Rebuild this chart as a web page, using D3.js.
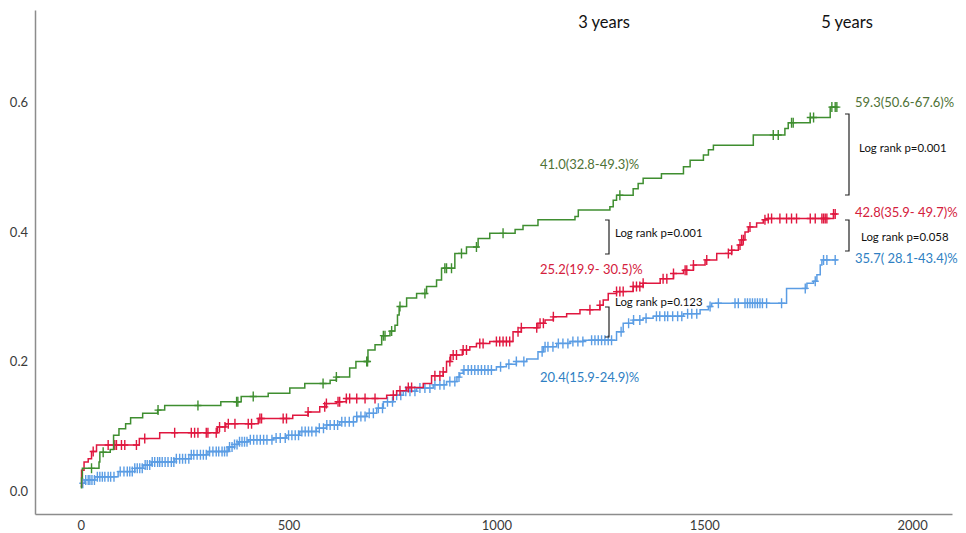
<!DOCTYPE html>
<html>
<head>
<meta charset="utf-8">
<script src="https://cdn.jsdelivr.net/npm/d3@7"></script>
<style>
  body { margin: 0; background: #fff; }
  svg { display: block; }
</style>
</head>
<body>
<svg id="chart" width="966" height="533"></svg>
<script>
// Cumulative incidence step curves: [day, cumulative proportion]
const greenSteps = [
  [0, 0.005], [2, 0.02], [4, 0.035], [44, 0.045], [46, 0.06], [71, 0.064], [79, 0.086],
  [92, 0.096], [108, 0.104], [120, 0.113], [149, 0.12], [185, 0.125], [202, 0.132],
  [337, 0.138], [386, 0.146], [451, 0.151], [503, 0.159], [539, 0.166], [600, 0.171],
  [615, 0.176], [647, 0.19], [662, 0.2], [691, 0.218], [708, 0.226], [724, 0.24],
  [744, 0.247], [756, 0.256], [762, 0.272], [766, 0.285], [784, 0.298], [808, 0.305],
  [832, 0.316], [856, 0.326], [868, 0.344], [900, 0.367], [928, 0.377], [956, 0.39],
  [984, 0.398], [1045, 0.404], [1064, 0.41], [1100, 0.419], [1189, 0.424], [1197, 0.434],
  [1273, 0.439], [1281, 0.449], [1289, 0.457], [1329, 0.467], [1341, 0.475], [1353, 0.483],
  [1397, 0.49], [1450, 0.501], [1466, 0.511], [1498, 0.519], [1510, 0.527], [1522, 0.534],
  [1618, 0.55], [1694, 0.56], [1702, 0.569], [1755, 0.577], [1803, 0.593]
];
const greenEnd = 1819;

const redSteps = [
  [0, 0.007], [2, 0.032], [8, 0.045], [18, 0.05], [26, 0.061], [38, 0.071], [141, 0.081],
  [190, 0.09], [329, 0.099], [349, 0.104], [427, 0.112], [510, 0.117], [547, 0.122],
  [575, 0.13], [591, 0.135], [615, 0.138], [639, 0.143], [736, 0.148], [760, 0.155],
  [784, 0.16], [824, 0.166], [844, 0.178], [872, 0.184], [880, 0.2], [890, 0.21],
  [918, 0.218], [936, 0.223], [952, 0.228], [984, 0.231], [1040, 0.246], [1060, 0.252],
  [1100, 0.259], [1117, 0.264], [1137, 0.269], [1169, 0.274], [1201, 0.28], [1249, 0.287],
  [1257, 0.295], [1269, 0.305], [1289, 0.308], [1329, 0.316], [1353, 0.321], [1394, 0.328],
  [1426, 0.336], [1450, 0.341], [1474, 0.349], [1502, 0.357], [1530, 0.367], [1566, 0.372],
  [1582, 0.38], [1590, 0.388], [1598, 0.4], [1606, 0.408], [1626, 0.414], [1642, 0.419],
  [1654, 0.421], [1811, 0.428]
];
const redEnd = 1815;

const blueSteps = [
  [0, 0.007], [3, 0.012], [10, 0.017], [34, 0.022], [90, 0.03], [130, 0.035], [150, 0.04],
  [170, 0.045], [226, 0.05], [266, 0.056], [306, 0.061], [355, 0.068], [370, 0.072],
  [379, 0.076], [403, 0.079], [463, 0.082], [495, 0.086], [527, 0.092], [567, 0.097],
  [591, 0.102], [623, 0.107], [664, 0.115], [688, 0.12], [712, 0.128], [728, 0.138],
  [752, 0.148], [776, 0.154], [808, 0.159], [848, 0.164], [880, 0.169], [905, 0.176],
  [912, 0.182], [920, 0.187], [1000, 0.192], [1024, 0.196], [1048, 0.2], [1073, 0.204],
  [1100, 0.215], [1113, 0.223], [1145, 0.228], [1177, 0.231], [1209, 0.233], [1289, 0.246],
  [1305, 0.259], [1329, 0.264], [1353, 0.267], [1377, 0.27], [1450, 0.274], [1490, 0.28],
  [1510, 0.285], [1518, 0.29], [1698, 0.313], [1747, 0.321], [1763, 0.324], [1771, 0.334],
  [1779, 0.349], [1783, 0.357]
];
const blueEnd = 1821;

// Censoring times (days)
const greenCensored = [26, 54, 186, 282, 375, 378, 415, 583, 615, 688, 690, 728, 732, 748,
  768, 828, 876, 880, 892, 916, 952, 1016, 1297, 1666, 1678, 1710, 1714, 1755, 1763,
  1807, 1815, 1819];

const redCensored = [30, 66, 82, 86, 98, 106, 134, 154, 226, 266, 274, 282, 302, 306, 326,
  334, 347, 355, 371, 403, 411, 431, 435, 487, 495, 547, 587, 591, 619, 623, 639, 647,
  664, 684, 708, 752, 768, 788, 796, 852, 864, 872, 888, 896, 904, 920, 928, 960, 968,
  1000, 1008, 1016, 1024, 1032, 1052, 1060, 1097, 1105, 1113, 1137, 1225, 1249, 1289,
  1297, 1305, 1329, 1337, 1345, 1353, 1401, 1410, 1426, 1454, 1458, 1474, 1506, 1558,
  1566, 1586, 1590, 1594, 1610, 1646, 1654, 1662, 1682, 1698, 1710, 1722, 1755, 1767,
  1783, 1787, 1791, 1795, 1811, 1815];

const blueCensored = [5, 12, 18, 22, 27, 33, 40, 46, 52, 58, 66, 72, 80, 95, 104, 112, 118,
  124, 130, 136, 142, 148, 155, 160, 166, 172, 178, 185, 190, 196, 203, 210, 218, 224,
  230, 238, 245, 252, 260, 266, 272, 280, 288, 295, 302, 310, 318, 326, 332, 340, 346,
  352, 358, 364, 370, 376, 382, 388, 394, 400, 408, 416, 424, 432, 440, 448, 460, 470,
  480, 492, 500, 508, 516, 524, 532, 540, 548, 556, 566, 574, 584, 592, 600, 610, 618,
  628, 636, 646, 656, 664, 674, 684, 694, 704, 716, 726, 738, 750, 760, 770, 782, 792,
  804, 816, 828, 840, 852, 864, 874, 888, 900, 910, 922, 932, 940, 948, 956, 964, 972,
  980, 988, 1010, 1030, 1048, 1066, 1110, 1117, 1124, 1136, 1149, 1160, 1172, 1184,
  1196, 1208, 1229, 1237, 1245, 1253, 1261, 1269, 1277, 1300, 1318, 1330, 1345, 1360,
  1385, 1393, 1405, 1412, 1424, 1436, 1446, 1460, 1470, 1482, 1514, 1534, 1574, 1582,
  1598, 1604, 1610, 1616, 1622, 1628, 1634, 1640, 1650, 1686, 1743, 1767, 1787, 1795,
  1815];

// Axis ticks
const xTicks = [0, 500, 1000, 1500, 2000];
const yTicks = [0.0, 0.2, 0.4, 0.6];

// Text content
const yearLabels = ["3 years", "5 years"];
const labels3y = ["41.0(32.8-49.3)%", "25.2(19.9- 30.5)%", "20.4(15.9-24.9)%"];
const labels5y = ["59.3(50.6-67.6)%", "42.8(35.9- 49.7)%", "35.7( 28.1-43.4)%"];
const logRank3y = ["Log rank p=0.001", "Log rank p=0.123"];
const logRank5y = ["Log rank p=0.001", "Log rank p=0.058"];

// ---------------------------------------------------------------------------
const svg = d3.select("#chart");
const FONT = "Lato, 'Open Sans', sans-serif";
const colors = {
  green: "#3f8e30", red: "#e0173f", blue: "#5b9de4",
  greenText: "#4f7236", redText: "#d4203c", blueText: "#2f7fc3"
};

const x = d3.scaleLinear().domain([-110, 2096]).range([35, 952]);
const y = d3.scaleLinear().domain([-0.0355, 0.743]).range([514, 10]);

// Axes
const xAxis = svg.append("g")
  .attr("transform", `translate(0,${y.range()[0]})`)
  .call(d3.axisBottom(x).tickValues(xTicks).tickSize(0).tickPadding(7).tickFormat(d3.format("d")));
const yAxis = svg.append("g")
  .attr("transform", `translate(${x.range()[0]},0)`)
  .call(d3.axisLeft(y).tickValues(yTicks).tickSize(0).tickPadding(7).tickFormat(d3.format(".1f")));

[xAxis, yAxis].forEach(g => {
  g.select(".domain").attr("stroke", "#8c8c8c").attr("stroke-width", 1.5);
  g.selectAll("text").attr("font-family", FONT).attr("font-size", 13).attr("fill", "#3a3a3a");
});

// Curves
const stepLine = d3.line().x(d => x(d[0])).y(d => y(d[1])).curve(d3.curveStepAfter);
const bis = d3.bisector(d => d[0]).right;

function drawSeries(steps, endDay, censored, color) {
  const pts = steps.concat([[endDay, steps[steps.length - 1][1]]]);
  svg.append("path")
    .attr("d", stepLine(pts))
    .attr("fill", "none")
    .attr("stroke", color)
    .attr("stroke-width", 1.5);

  const valueAt = t => steps[Math.max(0, bis(steps, t) - 1)][1];
  svg.append("g")
    .selectAll("path")
    .data(censored)
    .join("path")
    .attr("d", t => {
      const cx = x(t), cy = y(valueAt(t));
      return `M${cx},${cy - 5}V${cy + 5}M${cx - 3.5},${cy}H${cx + 3.5}`;
    })
    .attr("fill", "none")
    .attr("stroke", color)
    .attr("stroke-width", 1.4);
}

drawSeries(blueSteps, blueEnd, blueCensored, colors.blue);
drawSeries(redSteps, redEnd, redCensored, colors.red);
drawSeries(greenSteps, greenEnd, greenCensored, colors.green);

// Year headings
svg.selectAll(".year")
  .data(yearLabels)
  .join("text")
  .attr("class", "year")
  .attr("x", (d, i) => [604, 847][i])
  .attr("y", 22)
  .attr("dy", "0.35em")
  .attr("text-anchor", "middle")
  .attr("font-family", FONT)
  .attr("font-size", 16.5)
  .attr("fill", "#111")
  .text(d => d);

// Value labels
const textColors = [colors.greenText, colors.redText, colors.blueText];
function valueLabels(texts, xPos, yPos) {
  svg.append("g")
    .selectAll("text")
    .data(texts)
    .join("text")
    .attr("x", xPos)
    .attr("y", (d, i) => yPos[i])
    .attr("dy", "0.35em")
    .attr("font-family", FONT)
    .attr("font-size", 13)
    .attr("fill", (d, i) => textColors[i])
    .text(d => d);
}
valueLabels(labels3y, 540, [164, 269, 377]);
valueLabels(labels5y, 855, [102, 212, 258]);

// Log-rank brackets and texts
function bracket(bx, y0, y1) {
  svg.append("path")
    .attr("d", `M${bx - 4},${y0}H${bx}V${y1}H${bx - 4}`)
    .attr("fill", "none")
    .attr("stroke", "#222")
    .attr("stroke-width", 1.2);
}
bracket(609, 220, 254);
bracket(609, 307, 337);
bracket(849, 114, 195);
bracket(849, 220, 251);

function pText(txt, tx, ty) {
  svg.append("text")
    .attr("x", tx)
    .attr("y", ty)
    .attr("dy", "0.35em")
    .attr("font-family", FONT)
    .attr("font-size", 11.4)
    .attr("fill", "#111")
    .text(txt);
}
pText(logRank3y[0], 615, 233);
pText(logRank3y[1], 615, 302);
pText(logRank5y[0], 859, 148);
pText(logRank5y[1], 861, 237);
</script>
</body>
</html>
